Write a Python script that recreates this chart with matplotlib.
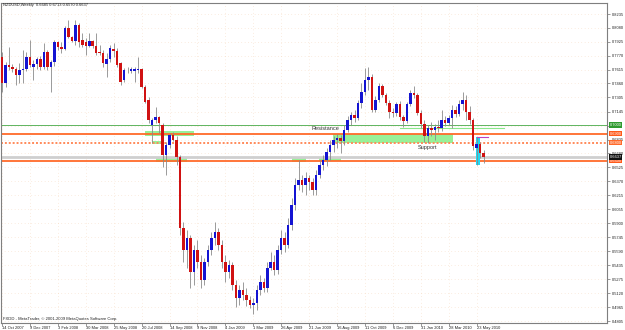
import matplotlib
matplotlib.use('Agg')
import matplotlib.pyplot as plt
from matplotlib.patches import Rectangle
from matplotlib.transforms import blended_transform_factory

plt.rcParams['font.family'] = ['Liberation Sans', 'DejaVu Sans']

# NZDUSD weekly bars, 14 Oct 2007 .. 6 Jun 2010
opens = [.7755, .7465, .7666, .7644, .7622, .7555, .7610, .7622, .7755, .7640,
         .7677, .7733, .7644, .7811, .7644, .7700, .7923, .7867, .7845, .8079,
         .7978, .7934, .8112, .7945, .7920, .7878, .7934, .7878, .7811, .7800,
         .7677, .7733, .7845, .7822, .7688, .7499, .7610, .7599, .7599, .7605,
         .7622, .7421, .7276, .6997, .7053, .7086, .6997, .6662, .6774, .6885,
         .6830, .6640, .5848, .5603, .5737, .5357, .5603, .5469, .5268, .5469,
         .5603, .5737, .5804, .5659, .5469, .5357, .5435, .5212, .5067, .5157,
         .5101, .5045, .4989, .5011, .5157, .5246, .5179, .5402, .5469, .5380,
         .5603, .5737, .5659, .5882, .6105, .6328, .6383, .6328, .6406, .6361,
         .6272, .6439, .6551, .6607, .6696, .6774, .6830, .6852, .6818, .6941,
         .7053, .7108, .7075, .7242, .7365, .7499, .7532, .7164, .7276, .7432,
         .7332, .7242, .7142, .7131, .7231, .7086, .7042, .7231, .7354, .7332,
         .7131, .7008, .6874, .6963, .6941, .6975, .6963, .7053, .7019, .7075,
         .7164, .7120, .7231, .7276, .7142, .7053, .6740, .6785, .6685]
highs = [.7811, .7700, .7867, .7677, .7644, .7688, .7833, .7811, .7945, .7722,
         .7755, .7767, .7912, .7833, .7722, .7945, .7934, .7923, .8101, .8168,
         .7990, .8168, .8135, .8023, .7967, .8023, .7945, .8023, .7889, .7833,
         .7800, .7889, .7912, .7856, .7700, .7633, .7644, .7644, .7644, .7755,
         .7633, .7443, .7309, .7075, .7198, .7097, .7019, .6807, .6908, .6919,
         .6874, .6662, .5915, .5826, .5770, .5659, .5714, .5547, .5513, .5659,
         .5804, .5915, .5848, .5714, .5547, .5491, .5469, .5268, .5212, .5246,
         .5179, .5090, .5067, .5212, .5324, .5290, .5469, .5580, .5547, .5659,
         .5826, .5804, .5960, .6183, .6406, .6607, .6439, .6473, .6439, .6406,
         .6495, .6607, .6662, .6740, .6830, .6874, .6897, .6885, .6997, .7097,
         .7142, .7164, .7276, .7465, .7633, .7644, .7566, .7320, .7465, .7454,
         .7354, .7276, .7187, .7253, .7265, .7108, .7253, .7387, .7432, .7354,
         .7164, .7053, .6997, .7030, .7008, .7053, .7164, .7097, .7108, .7220,
         .7209, .7276, .7365, .7332, .7209, .7075, .6863, .6807, .6713]
lows = [.7365, .7421, .7610, .7588, .7443, .7465, .7465, .7599, .7644, .7499,
        .7622, .7610, .7622, .7610, .7365, .7655, .7833, .7800, .7833, .7967,
        .7923, .7889, .7867, .7867, .7778, .7867, .7856, .7778, .7778, .7644,
        .7532, .7700, .7755, .7644, .7443, .7477, .7577, .7577, .7477, .7577,
        .7410, .7242, .7019, .6796, .7019, .6908, .6528, .6439, .6740, .6818,
        .6551, .5770, .5469, .5402, .5179, .5212, .5402, .5179, .5212, .5424,
        .5547, .5659, .5603, .5402, .5246, .5290, .5157, .4967, .4989, .5045,
        .4978, .4956, .4889, .4933, .5101, .5134, .5134, .5380, .5324, .5335,
        .5558, .5580, .5625, .5826, .6049, .6272, .6250, .6216, .6272, .6216,
        .6216, .6406, .6495, .6540, .6607, .6696, .6740, .6685, .6774, .6919,
        .6997, .7030, .7053, .7187, .7332, .7387, .7142, .7142, .7253, .7309,
        .7220, .7075, .7086, .7097, .7053, .6975, .7019, .7209, .7298, .7108,
        .6963, .6807, .6796, .6874, .6830, .6919, .6930, .6986, .6997, .6963,
        .7086, .7097, .7164, .7053, .7008, .6718, .6551, .6629, .6570]
closes = [.7465, .7666, .7644, .7622, .7555, .7610, .7622, .7755, .7666, .7677,
          .7733, .7644, .7811, .7644, .7700, .7923, .7867, .7845, .8079, .7978,
          .7934, .8112, .7923, .7889, .7878, .7934, .7878, .7800, .7795, .7688,
          .7733, .7856, .7822, .7666, .7477, .7610, .7615, .7620, .7622, .7622,
          .7421, .7253, .7053, .7053, .7086, .7019, .6662, .6774, .6885, .6830,
          .6640, .5848, .5603, .5737, .5357, .5603, .5469, .5268, .5469, .5603,
          .5737, .5804, .5659, .5469, .5357, .5435, .5212, .5067, .5157, .5101,
          .5045, .4989, .5011, .5157, .5246, .5179, .5402, .5469, .5380, .5603,
          .5737, .5659, .5882, .6105, .6328, .6383, .6328, .6406, .6361, .6272,
          .6439, .6551, .6607, .6696, .6774, .6830, .6852, .6818, .6941, .7053,
          .7108, .7075, .7242, .7365, .7499, .7532, .7164, .7276, .7432, .7332,
          .7242, .7142, .7131, .7231, .7086, .7042, .7231, .7354, .7332, .7131,
          .7008, .6874, .6963, .6941, .6975, .6963, .7053, .7019, .7075, .7164,
          .7120, .7231, .7276, .7142, .7053, .6763, .6785, .6685, .6637]

date_labels = ['14 Oct 2007', '9 Dec 2007', '3 Feb 2008', '30 Mar 2008', '25 May 2008',
               '20 Jul 2008', '14 Sep 2008', '9 Nov 2008', '4 Jan 2009', '1 Mar 2009',
               '26 Apr 2009', '21 Jun 2009', '16 Aug 2009', '11 Oct 2009', '6 Dec 2009',
               '31 Jan 2010', '28 Mar 2010', '23 May 2010']
date_bars = [0, 8, 16, 24, 32, 40, 48, 56, 64, 72, 80, 88, 96, 104, 112, 120, 128, 136]
# 0.6990 sits under the green 0.7000 tag in the screenshot, so it has no visible label
price_ticks = [0.8235, 0.8080, 0.7925, 0.7770, 0.7615, 0.7460, 0.7305, 0.7145, 0.6990,
               0.6835, 0.6680, 0.6525, 0.6370, 0.6215, 0.6055, 0.5900, 0.5745, 0.5590,
               0.5435, 0.5275, 0.5120, 0.4965, 0.4805]
price_labels = ['0.8235', '0.8080', '0.7925', '0.7770', '0.7615', '0.7460', '0.7305', '0.7145', '',
                '0.6835', '0.6680', '0.6525', '0.6370', '0.6215', '0.6055', '0.5900', '0.5745', '0.5590',
                '0.5435', '0.5275', '0.5120', '0.4965', '0.4805']

# horizontal levels drawn on the chart and their price-scale tags
level_prices = [0.7000, 0.6900, 0.6800, 0.6600]
level_colors = ['#45a845', '#ff6a2a', '#ff8a5a', '#ff6a2a']
level_styles = ['-', '-', (0, (1, 1)), '-']
level_widths = [0.6, 1.3, 1.4, 1.3]
level_tags = ['0.7000', '0.6900', '0.6800', '0.6600']

# light green S/R zones: bar start, bar end, low price, high price
zone_x0 = [41.0, 43.0, 44.1, 83.1, 90.8, 94.8]
zone_x1 = [55.0, 46.4, 53.0, 87.1, 97.1, 129.2]
zone_lo = [0.6874, 0.6785, 0.6584, 0.6584, 0.6595, 0.6796]
zone_hi = [0.6930, 0.6818, 0.6629, 0.6629, 0.6640, 0.6897]

fig = plt.figure(figsize=(6.25, 3.3), dpi=100)
fig.patch.set_facecolor('white')
ax = fig.add_axes([1 / 625, 7 / 330, 606 / 625, 320 / 330])
ax.set_facecolor('white')

n = len(closes)
xs = list(range(n))

# zones
for x0, x1, lo, hi in zip(zone_x0, zone_x1, zone_lo, zone_hi):
    ax.add_patch(Rectangle((x0, lo), x1 - x0, hi - lo, facecolor='#98f098',
                           edgecolor='none', zorder=1))

# thin green line over the Dec-Apr range
ax.plot([114.0, 143.8], [0.6961, 0.6961], color='#8ae88a', lw=0.8, zorder=2)

# bid line
ax.axhline(closes[-1], color='#cfcfcf', lw=2.0, zorder=1.5)

for p, c, ls, w in zip(level_prices, level_colors, level_styles, level_widths):
    ax.axhline(p, color=c, ls=ls, lw=w, zorder=2)

# cyan box + magenta mark on the last bars
ax.add_patch(Rectangle((135.9, 0.6551), 1.2, 0.6863 - 0.6551, facecolor='#1fd8f2',
                       edgecolor='none', zorder=2.5))
ax.plot([136.0, 139.3], [0.6860, 0.6860], color='#c040c0', lw=0.8, zorder=4)

# candles
ax.vlines(xs, lows, highs, color='#8a8a8a', lw=0.6, zorder=3)
body_col = ['#1414d2' if c >= o else '#d01212' for o, c in zip(opens, closes)]
body_lo = [min(o, c) for o, c in zip(opens, closes)]
body_h = [max(abs(c - o), 0.0004) for o, c in zip(opens, closes)]
ax.bar(xs, body_h, bottom=body_lo, width=0.72, color=body_col, edgecolor='none', zorder=3.5)

# texts
ax.text(92.8, 0.6963, 'Resistance', fontsize=4.1, color='#333333', ha='center', va='center', zorder=5)
ax.text(121.8, 0.6751, 'Support', fontsize=4.0, color='#333333', ha='center', va='center', zorder=5)
ax.text(0.003, 0.994, 'NZDUSD,Weekly  0.6685 0.6713 0.6570 0.6637', transform=ax.transAxes,
        fontsize=2.9, color='#222222', ha='left', va='center')
ax.text(0.003, 0.0125, 'FXDD - MetaTrader, \u00a9 2001-2009 MetaQuotes Software Corp.',
        transform=ax.transAxes, fontsize=3.0, color='#222222', ha='left', va='center')

# axes, grid
ax.set_xlim(-0.29, 173.35)
ax.set_ylim(0.4788, 0.8358)
ax.set_xticks(date_bars)
ax.set_xticklabels(date_labels, ha='left')
ax.set_yticks(price_ticks)
ax.set_yticklabels(price_labels)
ax.yaxis.tick_right()
ax.tick_params(axis='x', length=2, width=0.5, color='#707070', pad=0.5, labelsize=2.9,
               labelcolor='#222222')
ax.tick_params(axis='y', length=2, width=0.5, color='#707070', pad=1.2, labelsize=2.9,
               labelcolor='#222222')
ax.grid(True, color='#f2c8a0', lw=0.4, linestyle=(0, (1, 5)))
ax.set_axisbelow(True)
for s in ax.spines.values():
    s.set_color('#7f7f7f')
    s.set_linewidth(0.8)

# coloured price tags on the scale
trans = blended_transform_factory(ax.transAxes, ax.transData)
tag_prices = level_prices + [closes[-1]]
tag_texts = level_tags + ['%.4f' % closes[-1]]
tag_colors = ['#2f9a2f', '#ff5a1a', '#ff6a2a', '#ff5a1a', '#111111']
for p, t, c in zip(tag_prices, tag_texts, tag_colors):
    ax.text(1.004, p, t, transform=trans, fontsize=2.9, color='white', ha='left', va='center',
            zorder=6, clip_on=False,
            bbox=dict(boxstyle='square,pad=0.2', facecolor=c, edgecolor='none'))

fig.savefig('out.png', dpi=100)
